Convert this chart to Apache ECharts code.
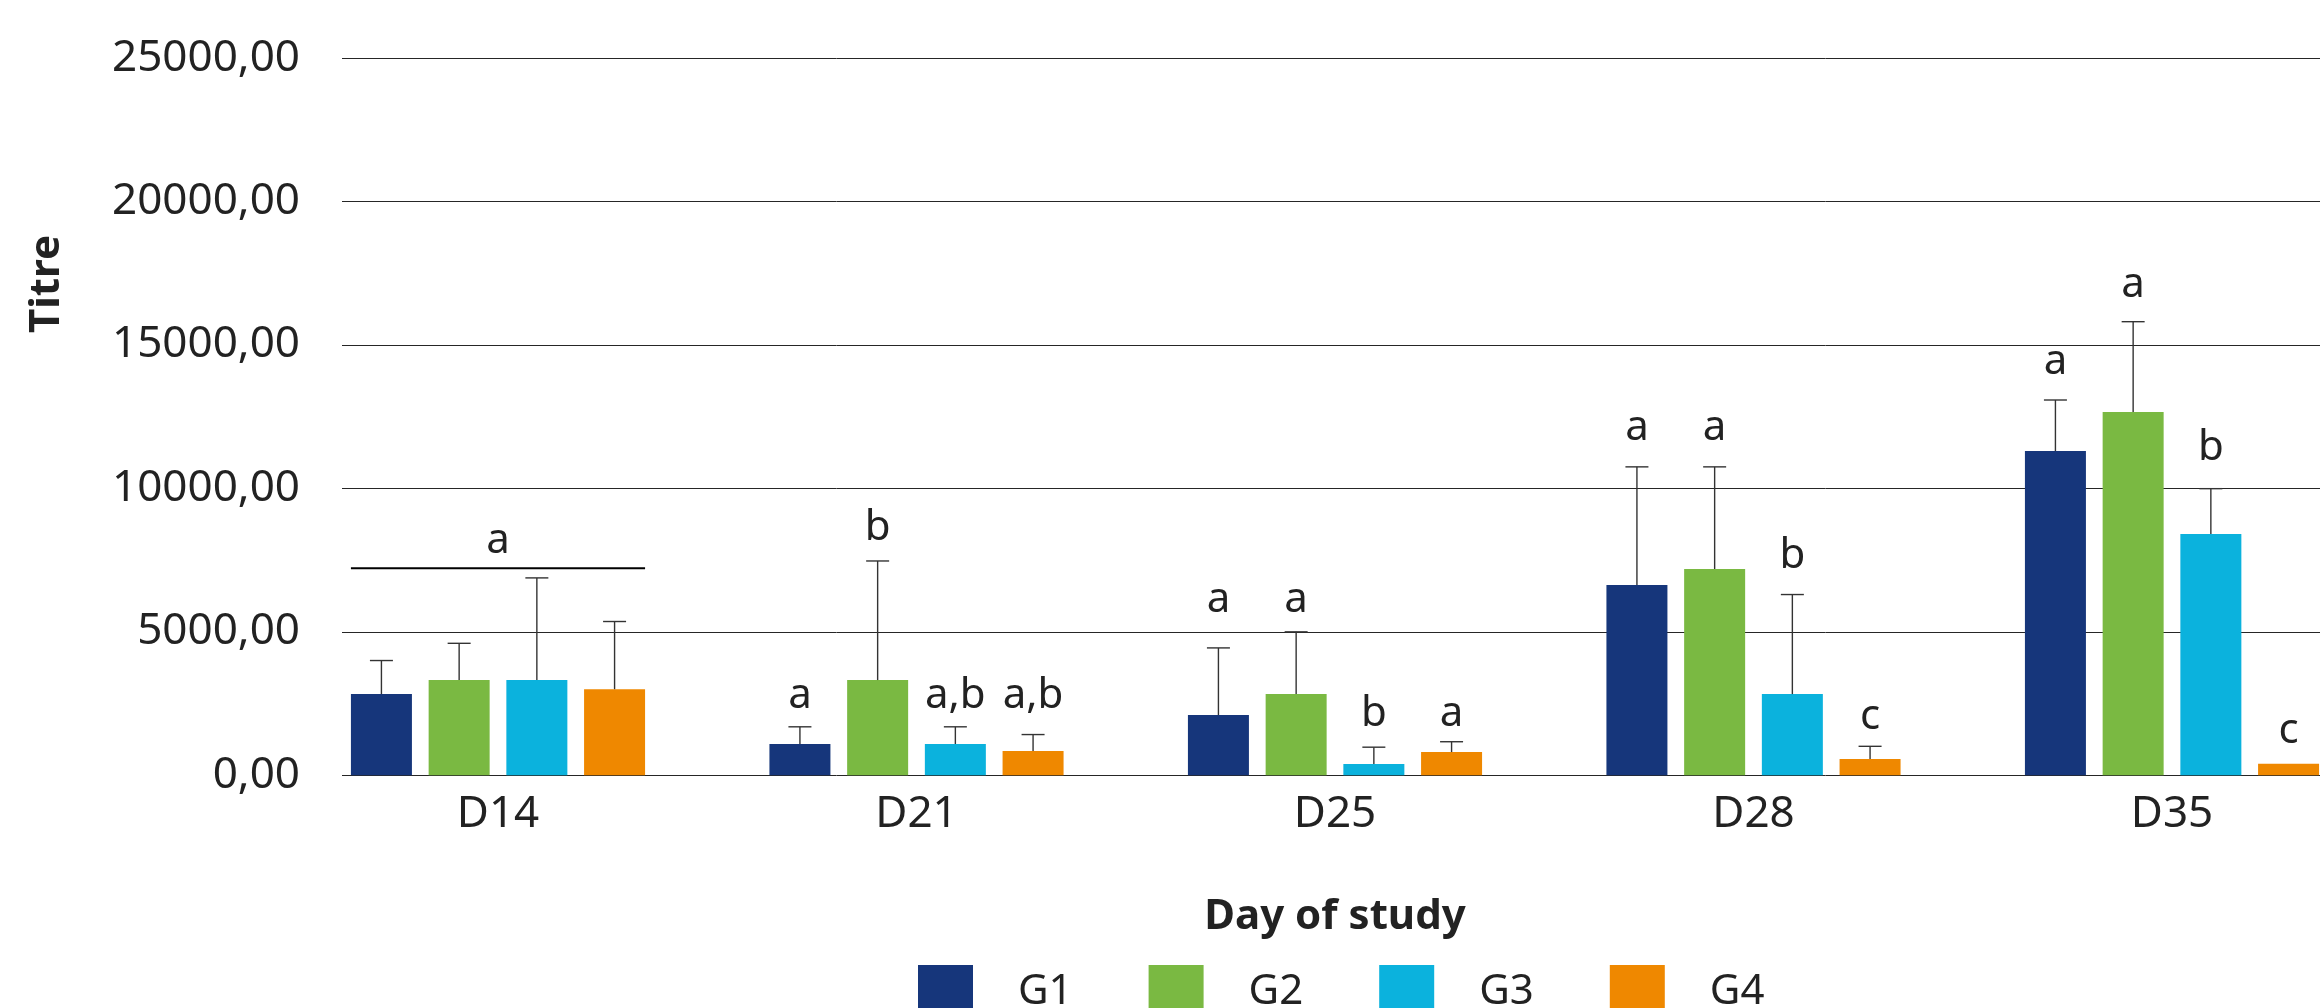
<!DOCTYPE html>
<html>
<head>
<meta charset="utf-8">
<script src="https://cdn.jsdelivr.net/npm/echarts@6/dist/echarts.min.js"></script>
<style>
html,body{margin:0;padding:0;background:#fff;}
#chart{width:2320px;height:1008px;}
</style>
</head>
<body>
<div id="chart"></div>
<script>
// ---- data ----
const categories = ['D14', 'D21', 'D25', 'D28', 'D35'];
const groups = ['G1', 'G2', 'G3', 'G4'];
const colors = ['#16367B', '#7AB942', '#0BB2DD', '#EF8800'];

const g1Mean = [2830, 1090, 2100, 6630, 11300];
const g2Mean = [3320, 3320, 2830, 7190, 12660];
const g3Mean = [3320, 1090, 390, 2830, 8410];
const g4Mean = [3000, 850, 810, 570, 400];

const g1Upper = [4000, 1690, 4440, 10750, 13080];
const g2Upper = [4600, 7470, 5000, 10750, 15810];
const g3Upper = [6880, 1690, 980, 6300, 9990];
const g4Upper = [5360, 1420, 1170, 1010, null];

const g1Letters = ['', 'a', 'a', 'a', 'a'];
const g2Letters = ['', 'b', 'a', 'a', 'a'];
const g3Letters = ['', 'a,b', 'b', 'b', 'b'];
const g4Letters = ['', 'a,b', 'a', 'c', 'c'];

// baseline height (in titre units) at which each letter sits
const g1LetterAt = [null, 2360, 5700, 11690, 13990];
const g2LetterAt = [null, 8200, 5700, 11690, 16680];
const g3LetterAt = [null, 2360, 1730, 7240, 10990];
const g4LetterAt = [null, 2360, 1730, 1600, 1130];

// D14: one bracket over all groups
const bracketCategory = 0;
const bracketValue = 7215;
const bracketLetter = 'a';
const bracketLetterAt = 7750;

const yTicks = [0, 5000, 10000, 15000, 20000, 25000];

// ---- build ----
const means = [g1Mean, g2Mean, g3Mean, g4Mean];
const uppers = [g1Upper, g2Upper, g3Upper, g4Upper];
const letters = [g1Letters, g2Letters, g3Letters, g4Letters];
const letterAt = [g1LetterAt, g2LetterAt, g3LetterAt, g4LetterAt];

const FONT = "'Noto Sans', sans-serif";
const TXT = '#222222';
const BAR_W = 61;
const BAR_GAP = '27.4%';

const errData = [];
const letterData = [];
const letterTexts = [];
for (let g = 0; g < 4; g++) {
  for (let c = 0; c < categories.length; c++) {
    if (uppers[g][c] != null) errData.push([c, g, means[g][c], uppers[g][c]]);
    if (letters[g][c]) {
      letterData.push([c, g, letterAt[g][c], letterTexts.length]);
      letterTexts.push(letters[g][c]);
    }
  }
}

const barSeries = groups.map((name, g) => ({
  name: name,
  type: 'bar',
  xAxisIndex: 1,
  yAxisIndex: 1,
  data: means[g],
  barWidth: BAR_W,
  barGap: BAR_GAP,
  itemStyle: { color: colors[g] },
  silent: true
}));

function layoutOf(api) {
  return api.barLayout({ count: 4, barWidth: BAR_W, barGap: BAR_GAP });
}

const errSeries = {
  name: 'err',
  type: 'custom',
  xAxisIndex: 1,
  yAxisIndex: 1,
  data: errData,
  z: 5,
  silent: true,
  renderItem: function (params, api) {
    const c = api.value(0), g = api.value(1);
    const lay = layoutOf(api);
    const base = api.coord([c, api.value(2)]);
    const top = api.coord([c, api.value(3)]);
    const x = base[0] + lay[g].offsetCenter;
    const hw = 11.5;
    return {
      type: 'group',
      children: [
        { type: 'line', shape: { x1: x, y1: base[1], x2: x, y2: top[1] }, style: { stroke: '#333', lineWidth: 1.4 } },
        { type: 'line', shape: { x1: x - hw, y1: top[1], x2: x + hw, y2: top[1] }, style: { stroke: '#333', lineWidth: 1.4 } }
      ]
    };
  }
};

const letterSeries = {
  name: 'letters',
  type: 'custom',
  xAxisIndex: 1,
  yAxisIndex: 1,
  data: letterData,
  z: 6,
  silent: true,
  renderItem: function (params, api) {
    const c = api.value(0), g = api.value(1);
    const lay = layoutOf(api);
    const p = api.coord([c, api.value(2)]);
    return {
      type: 'text',
      x: p[0] + lay[g].offsetCenter,
      y: p[1] - 12,
      style: {
        text: letterTexts[api.value(3)],
        font: '42px ' + FONT,
        fill: TXT,
        textAlign: 'center',
        textVerticalAlign: 'middle'
      }
    };
  }
};

const bracketSeries = {
  name: 'bracket',
  type: 'custom',
  xAxisIndex: 1,
  yAxisIndex: 1,
  data: [[bracketCategory, bracketValue, bracketLetterAt]],
  z: 6,
  silent: true,
  renderItem: function (params, api) {
    const c = api.value(0);
    const lay = layoutOf(api);
    const p = api.coord([c, api.value(1)]);
    const t = api.coord([c, api.value(2)]);
    const x1 = p[0] + lay[0].offset;
    const x2 = p[0] + lay[3].offset + lay[3].width;
    return {
      type: 'group',
      children: [
        { type: 'line', shape: { x1: x1, y1: p[1], x2: x2, y2: p[1] }, style: { stroke: '#000', lineWidth: 2 } },
        { type: 'text', x: (x1 + x2) / 2, y: t[1] - 12,
          style: { text: bracketLetter, font: '42px ' + FONT, fill: TXT, textAlign: 'center', textVerticalAlign: 'middle' } }
      ]
    };
  }
};

const chart = echarts.init(document.getElementById('chart'), null, { renderer: 'canvas' });
chart.setOption({
  animation: false,
  backgroundColor: '#ffffff',
  textStyle: { fontFamily: FONT, color: TXT },
  grid: [
    { left: 342, right: 0, top: 58, bottom: 232.7, outerBoundsMode: 'none', containLabel: false },
    { left: 288.75, width: 2092.5, top: 58, bottom: 232.7, outerBoundsMode: 'none', containLabel: false }
  ],
  legend: {
    data: groups,
    left: 913,
    top: 960,
    itemWidth: 55,
    itemHeight: 55,
    itemGap: 76,
    icon: 'rect',
    selectedMode: false,
    textStyle: { fontSize: 42, color: TXT, fontFamily: FONT, padding: [0, 0, 0, 40] }
  },
  xAxis: [
    { gridIndex: 0, type: 'category', data: categories, show: false },
    {
      gridIndex: 1,
      type: 'category',
      data: categories,
      axisLine: { show: false },
      axisTick: { show: false },
      splitLine: { show: false },
      axisLabel: { fontSize: 44, color: TXT, margin: 17, fontFamily: FONT },
      name: 'Day of study',
      nameLocation: 'middle',
      nameGap: 121,
      nameTextStyle: { fontSize: 42, fontWeight: 'bold', color: TXT, fontFamily: FONT }
    }
  ],
  yAxis: [
    {
      gridIndex: 0,
      type: 'value',
      min: yTicks[0],
      max: yTicks[yTicks.length - 1],
      interval: yTicks[1] - yTicks[0],
      axisLine: { show: false },
      axisTick: { show: false },
      splitLine: { show: true, lineStyle: { color: '#262626', width: 1 } },
      axisLabel: {
        fontSize: 44, color: TXT, margin: 42, fontFamily: FONT,
        formatter: v => v.toFixed(2).replace('.', ',')
      }
    },
    {
      gridIndex: 1,
      type: 'value',
      min: yTicks[0],
      max: yTicks[yTicks.length - 1],
      interval: yTicks[1] - yTicks[0],
      show: false,
      splitLine: { show: false }
    }
  ],
  graphic: [
    {
      type: 'text',
      x: 47,
      y: 284,
      rotation: Math.PI / 2,
      style: {
        text: 'Titre',
        font: 'bold 42px ' + FONT,
        fill: TXT,
        textAlign: 'center',
        textVerticalAlign: 'middle'
      }
    }
  ],
  series: barSeries.concat([errSeries, letterSeries, bracketSeries])
});
</script>
</body>
</html>
